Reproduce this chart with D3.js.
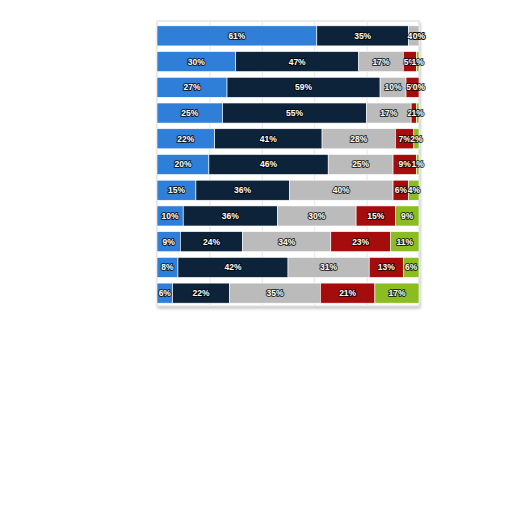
<!DOCTYPE html>
<html><head><meta charset="utf-8">
<script src="https://cdn.jsdelivr.net/npm/d3@7"></script>
<style>body{margin:0;background:#fff}svg{display:block}</style>
</head><body>
<svg id="c" width="512" height="512"></svg>
<script>
const categories = ["R1","R2","R3","R4","R5","R6","R7","R8","R9","R10","R11"];
const seriesNames = ["S1","S2","S3","S4","S5"];
const s1 = [61,30,27,25,22,20,15,10,9,8,6];
const s2 = [35,47,59,55,41,46,36,36,24,42,22];
const s3 = [4,17,10,17,28,25,40,30,34,31,35];
const s4 = [0,5,5,2,7,9,6,15,23,13,21];
const s5 = [0,1,0,1,2,1,4,9,11,6,17];
const colors = ["#2f7ed8","#0d233a","#bbbbbb","#a50c0c","#8bbc21"];
const xTicks = [0,20,40,60,80,100];

const svg = d3.select("#c");
const defs = svg.append("defs");
const f = defs.append("filter").attr("id","sh").attr("x","-5%").attr("y","-5%").attr("width","115%").attr("height","115%");
f.append("feDropShadow").attr("dx",1).attr("dy",2).attr("stdDeviation",1.5).attr("flood-color","#000").attr("flood-opacity",0.25);

const left = 157, right = 419;
const x = d3.scaleLinear().domain([0,100]).range([left,right]);
const y = d3.scaleBand().domain(categories).range([23,306]).paddingInner(0.22).paddingOuter(0.11);

svg.append("rect").attr("x",left).attr("y",21).attr("width",right-left).attr("height",285)
  .attr("fill","#fff").attr("stroke","#d8d8d8").attr("stroke-width",1).attr("filter","url(#sh)");

svg.append("g").selectAll("line").data(xTicks.slice(1,-1)).join("line")
  .attr("x1",d=>x(d)+0.5).attr("x2",d=>x(d)+0.5).attr("y1",22).attr("y2",305)
  .attr("stroke","#e6e6e6").attr("stroke-width",1);

const all = [s1,s2,s3,s4,s5];
const rows = categories.map((c,i)=>{ const o={cat:c}; seriesNames.forEach((s,j)=>o[s]=all[j][i]); return o; });
const stack = d3.stack().keys(seriesNames).offset(d3.stackOffsetExpand);
const layers = stack(rows);

const g = svg.append("g");
layers.forEach((layer,j)=>{
  g.append("g").selectAll("rect").data(layer).join("rect")
    .attr("x",d=>x(d[0]*100)).attr("width",d=>Math.max(0,x(d[1]*100)-x(d[0]*100)))
    .attr("y",d=>y(d.data.cat)).attr("height",y.bandwidth())
    .attr("fill",colors[j]).attr("stroke","#fff").attr("stroke-width",0.6);
});
layers.forEach((layer,j)=>{
  g.append("g").selectAll("text").data(layer).join("text")
    .attr("x",d=>(x(d[0]*100)+x(d[1]*100))/2)
    .attr("y",d=>y(d.data.cat)+y.bandwidth()/2)
    .attr("dy","0.35em").attr("text-anchor","middle")
    .attr("font-family","Liberation Sans, Arial, sans-serif").attr("font-weight","bold").attr("font-size",8.5)
    .attr("fill","#fff").attr("stroke","#000").attr("stroke-opacity",0.75).attr("stroke-width",2)
    .attr("stroke-linejoin","round").attr("paint-order","stroke")
    .text(d=>d.data[seriesNames[j]]+"%");
});
</script>
</body></html>
